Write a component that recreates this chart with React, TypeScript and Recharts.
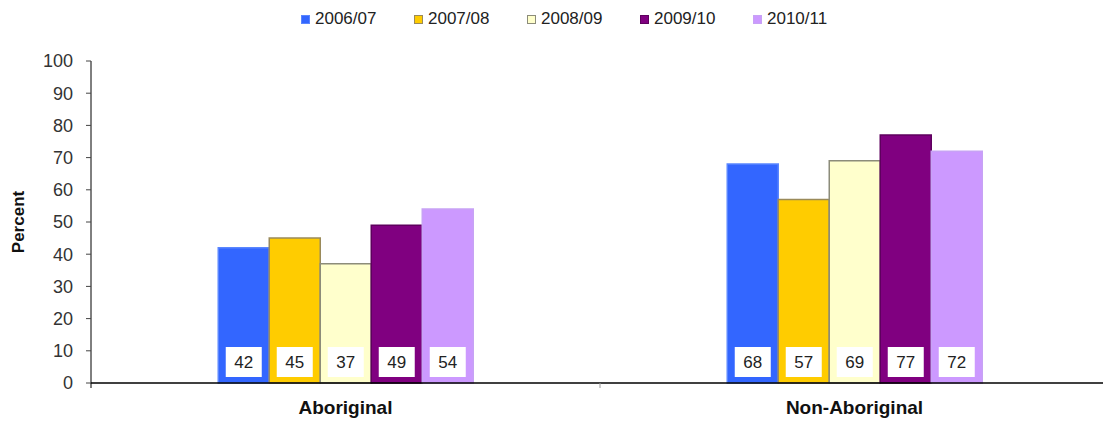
import React from "react";
import {
  BarChart,
  Bar,
  XAxis,
  YAxis,
  Legend,
  LabelList,
} from "recharts";

const groups = ["Aboriginal", "Non-Aboriginal"];
const years = ["2006/07", "2007/08", "2008/09", "2009/10", "2010/11"];
const y2006 = [42, 68];
const y2007 = [45, 57];
const y2008 = [37, 69];
const y2009 = [49, 77];
const y2010 = [54, 72];
const yTicks = [0, 10, 20, 30, 40, 50, 60, 70, 80, 90, 100];

const fills = ["#3366FF", "#FFCC00", "#FFFFCC", "#800080", "#CC99FF"];
const strokes = ["#5A86FF", "#9A8A5A", "#8C8C7A", "#5E005E", "#C7A2F5"];

const seriesValues = [y2006, y2007, y2008, y2009, y2010];
const data = groups.map((g, i) => {
  const row: Record<string, string | number> = { group: g };
  years.forEach((y, s) => {
    row[y] = seriesValues[s][i];
  });
  return row;
});

const W = 1103;
const H = 422;
const FONT = "'Liberation Sans', Arial, sans-serif";
const M = { top: 25, right: -6, left: 0, bottom: 0 };
const Y_W = 91;
const bandHalf = (W - M.right - Y_W) / groups.length / 2;

// white value box sitting near the foot of each bar
const ValueBox = (props: any) => {
  const { x, y, width, height, value } = props;
  const cx = x + width / 2;
  const bottom = y + height;
  return (
    <g>
      <rect x={cx - 18} y={bottom - 36} width={36} height={30} fill="#fff" />
      <text
        x={cx}
        y={bottom - 15}
        textAnchor="middle"
        fontFamily={FONT}
        fontSize={17}
        fill="#222"
      >
        {value}
      </text>
    </g>
  );
};

const GroupTick = (props: any) => {
  const { x, y, payload, index } = props;
  return (
    <g>
      {index === 0 && (
        <>
          <line x1={x - bandHalf} y1={y - 8} x2={x - bandHalf} y2={y - 3} stroke="#000" />
          <line x1={x + bandHalf} y1={y - 8} x2={x + bandHalf} y2={y - 3} stroke="#999" />
        </>
      )}
      <text
        x={x}
        y={y + 23}
        textAnchor="middle"
        fontFamily={FONT}
        fontWeight="bold"
        fontSize={19}
        fill="#111"
      >
        {payload.value}
      </text>
    </g>
  );
};

const LegendRow = () => (
  <div style={{ display: "flex", fontFamily: FONT, fontSize: 17, color: "#222" }}>
    {years.map((y, i) => (
      <div key={y} style={{ width: 113, display: "flex", alignItems: "center" }}>
        <span
          style={{
            width: 7,
            height: 7,
            background: fills[i],
            border: `1px solid ${strokes[i]}`,
            marginRight: 5,
            display: "inline-block",
          }}
        />
        {y}
      </div>
    ))}
  </div>
);

export default function App() {
  return (
    <div style={{ position: "absolute", left: 0, top: 0, background: "#fff" }}>
      <BarChart
        width={W}
        height={H}
        data={data}
        margin={M}
        barGap={0}
        barCategoryGap="25%"
      >
        <Legend
          verticalAlign="top"
          height={36}
          content={() => <LegendRow />}
          wrapperStyle={{ top: 9, left: 301, width: 600 }}
        />
        <XAxis
          dataKey="group"
          axisLine={{ stroke: "#000", strokeWidth: 1.5 }}
          tickLine={false}
          tick={<GroupTick />}
          height={39}
          interval={0}
        />
        <YAxis
          width={Y_W}
          domain={[0, 100]}
          ticks={yTicks}
          interval={0}
          axisLine={{ stroke: "#000" }}
          tickLine={{ stroke: "#444" }}
          tickSize={5}
          tickMargin={13}
          tick={{ fontFamily: FONT, fontSize: 18, fill: "#333" }}
          label={{
            value: "Percent",
            angle: -90,
            position: "insideLeft",
            offset: 18,
            style: {
              fontFamily: FONT,
              fontSize: 17,
              fontWeight: "bold",
              fill: "#111",
              textAnchor: "middle",
            },
          }}
        />
        {years.map((y, i) => (
          <Bar
            key={y}
            dataKey={y}
            fill={fills[i]}
            stroke={strokes[i]}
            strokeWidth={1.5}
            isAnimationActive={false}
          >
            <LabelList dataKey={y} content={<ValueBox />} />
          </Bar>
        ))}
      </BarChart>
    </div>
  );
}
